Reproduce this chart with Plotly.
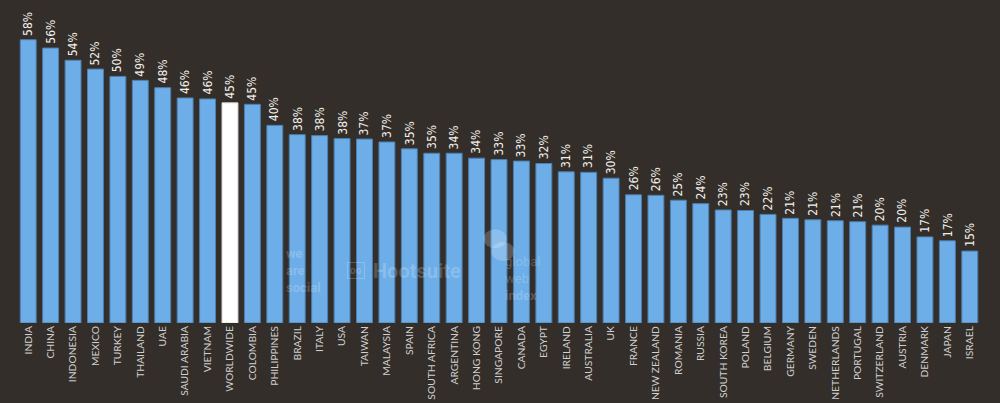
import plotly.graph_objects as go

countries = ["INDIA", "CHINA", "INDONESIA", "MEXICO", "TURKEY", "THAILAND", "UAE",
             "SAUDI ARABIA", "VIETNAM", "WORLDWIDE", "COLOMBIA", "PHILIPPINES", "BRAZIL",
             "ITALY", "USA", "TAIWAN", "MALAYSIA", "SPAIN", "SOUTH AFRICA", "ARGENTINA",
             "HONG KONG", "SINGAPORE", "CANADA", "EGYPT", "IRELAND", "AUSTRALIA", "UK",
             "FRANCE", "NEW ZEALAND", "ROMANIA", "RUSSIA", "SOUTH KOREA", "POLAND",
             "BELGIUM", "GERMANY", "SWEDEN", "NETHERLANDS", "PORTUGAL", "SWITZERLAND",
             "AUSTRIA", "DENMARK", "JAPAN", "ISRAEL"]

# bar heights (percent)
values = [57.9, 56.2, 53.7, 51.9, 50.4, 49.6, 48.1, 46.0, 45.8, 45.0, 44.7, 40.4, 38.5,
          38.3, 37.7, 37.6, 37.0, 35.6, 34.7, 34.7, 33.7, 33.4, 33.1, 32.6, 30.9, 30.8,
          29.6, 26.2, 26.1, 25.1, 24.4, 23.1, 23.0, 22.2, 21.4, 21.1, 20.9, 20.7, 20.0,
          19.6, 17.6, 16.8, 14.7]

# printed value labels
value_labels = ["58%", "56%", "54%", "52%", "50%", "49%", "48%", "46%", "46%", "45%",
                "45%", "40%", "38%", "38%", "38%", "37%", "37%", "35%", "35%", "34%",
                "34%", "33%", "33%", "32%", "31%", "31%", "30%", "26%", "26%", "25%",
                "24%", "23%", "23%", "22%", "21%", "21%", "21%", "21%", "20%", "20%",
                "17%", "17%", "15%"]

highlight = "WORLDWIDE"
BG = "#342e2a"
BLUE = "#6daee8"

colors = ["#ffffff" if c == highlight else BLUE for c in countries]
lines = ["#d8d8d8" if c == highlight else "#4c7fae" for c in countries]

fig = go.Figure(go.Bar(
    x=countries, y=values,
    marker=dict(color=colors, line=dict(color=lines, width=1)),
    hoverinfo="x+y",
))

# value labels, rotated, sitting just above each bar
for c, v, t in zip(countries, values, value_labels):
    fig.add_annotation(x=c, y=v, text=t, textangle=-90, showarrow=False,
                       xanchor="center", yanchor="bottom", yshift=2,
                       font=dict(family="Liberation Sans Narrow, DejaVu Sans Condensed, sans-serif",
                                 size=12, color="#f2efea"))

fig.update_layout(
    width=1000, height=403,
    paper_bgcolor=BG, plot_bgcolor=BG,
    margin=dict(l=17, r=19, t=5, b=80),
    bargap=0.29,
    showlegend=False,
    xaxis=dict(tickangle=-90, showgrid=False, zeroline=False, showline=False,
               ticks="", automargin=False, range=[-0.5, len(countries) - 0.5],
               tickfont=dict(family="Lato, Open Sans, sans-serif", size=10.3, color="#d0d0d0")),
    yaxis=dict(range=[0, 65], visible=False, showgrid=False, zeroline=False,
               automargin=False),
)

wm = "rgba(255,255,255,0.2)"
fig.add_annotation(xref="paper", yref="paper", x=0.297, y=0.165, xanchor="center",
                   yanchor="middle", showarrow=False, align="left",
                   text="<b>we<br>are<br>social</b>",
                   font=dict(family="Roboto, sans-serif", size=13, color=wm))
fig.add_annotation(xref="paper", yref="paper", x=0.415, y=0.165, xanchor="center",
                   yanchor="middle", showarrow=False,
                   text="<b>Hootsuite</b>",
                   font=dict(family="Roboto, sans-serif", size=20, color=wm))
fig.add_annotation(xref="paper", yref="paper", x=0.352, y=0.165, xanchor="center",
                   yanchor="middle", showarrow=False, text="<b>oo</b>",
                   bordercolor=wm, borderwidth=1, borderpad=2,
                   font=dict(family="Roboto, sans-serif", size=10, color=wm))
fig.add_annotation(xref="paper", yref="paper", x=0.5245, y=0.14, xanchor="center",
                   yanchor="middle", showarrow=False, align="left",
                   text="global<br>web<br><b>index</b>",
                   font=dict(family="Roboto, sans-serif", size=13, color=wm))
fig.add_shape(type="circle", xref="paper", yref="paper",
              x0=0.484, x1=0.508, y0=0.235, y1=0.295, fillcolor=wm, line_width=0)
fig.add_shape(type="circle", xref="paper", yref="paper",
              x0=0.492, x1=0.516, y0=0.195, y1=0.255, fillcolor=wm, line_width=0)

fig.write_html("out.html", config={"displayModeBar": False},
               post_script="document.body.style.margin='0';")
